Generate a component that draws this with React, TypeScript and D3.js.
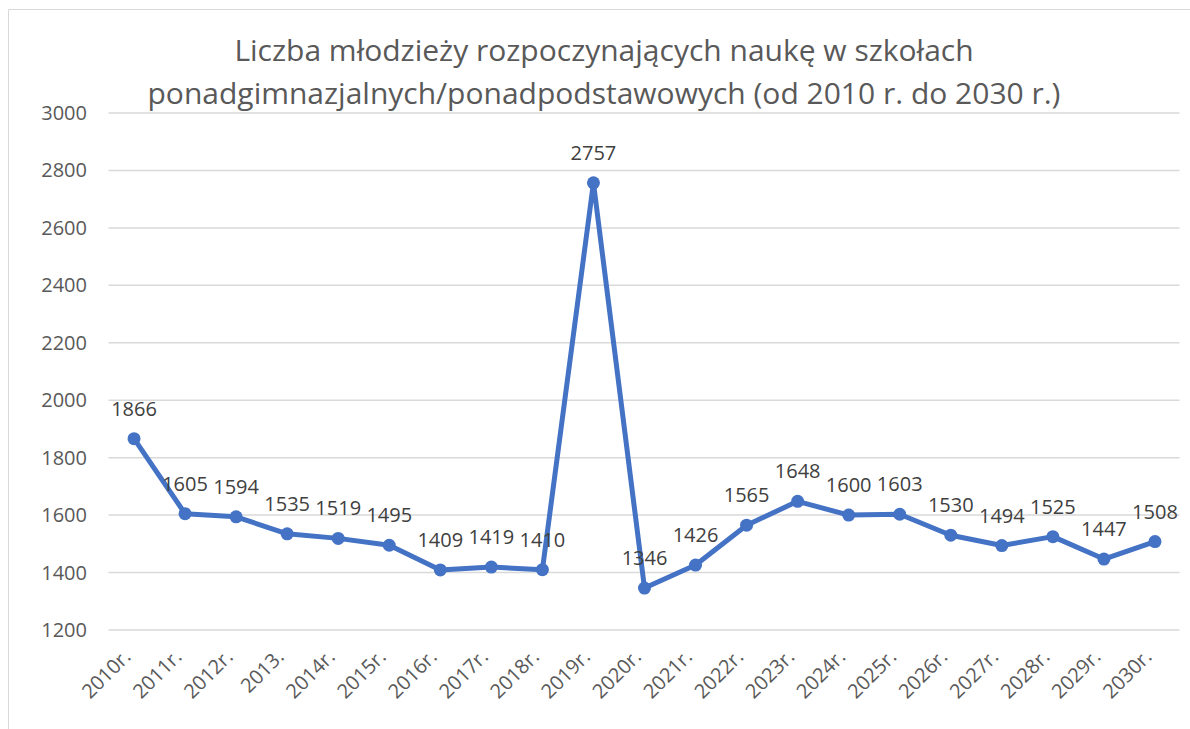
import React from "react";
import * as d3 from "d3";

const categories = ["2010r.", "2011r.", "2012r.", "2013.", "2014r.", "2015r.", "2016r.", "2017r.", "2018r.", "2019r.", "2020r.", "2021r.", "2022r.", "2023r.", "2024r.", "2025r.", "2026r.", "2027r.", "2028r.", "2029r.", "2030r."];
const values = [1866, 1605, 1594, 1535, 1519, 1495, 1409, 1419, 1410, 2757, 1346, 1426, 1565, 1648, 1600, 1603, 1530, 1494, 1525, 1447, 1508];
const yTicks = [1200, 1400, 1600, 1800, 2000, 2200, 2400, 2600, 2800, 3000];
const titleLines = ["Liczba młodzieży rozpoczynających naukę w szkołach", "ponadgimnazjalnych/ponadpodstawowych (od 2010 r. do 2030 r.)"];

const W = 1190, H = 729;
const plotLeft = 108.5, plotRight = 1180.5, plotTop = 113, plotBottom = 630;
const FONT = "'Open Sans', 'Liberation Sans', sans-serif";

export default function App() {
  const x = d3.scaleBand<string>().domain(categories).range([plotLeft, plotRight]);
  const y = d3.scaleLinear().domain([1200, 3000]).range([plotBottom, plotTop]);
  const cx = (c: string) => (x(c) as number) + x.bandwidth() / 2;
  const line = d3.line<number>().x((_, i) => cx(categories[i])).y((v) => y(v));

  return (
    <svg width={W} height={H} style={{ position: "absolute", left: 0, top: 0, background: "#fff" }} fontFamily={FONT}>
      <rect x={0} y={0} width={W} height={H} fill="#fff" />
      <line x1={8.5} y1={9.5} x2={W} y2={9.5} stroke="#d9d9d9" strokeWidth={1} />
      <line x1={8.5} y1={9.5} x2={8.5} y2={H} stroke="#d9d9d9" strokeWidth={1} />
      {titleLines.map((t, i) => (
        <text key={i} x={604} y={61 + i * 43} textAnchor="middle" fontSize={30} fill="#595959">{t}</text>
      ))}
      {yTicks.map((t) => (
        <g key={t}>
          <line x1={plotLeft} x2={plotRight - 1} y1={y(t)} y2={y(t)} stroke="#d9d9d9" strokeWidth={1.5} />
          <text x={87} y={y(t) + 7} textAnchor="end" fontSize={20} fill="#595959">{t}</text>
        </g>
      ))}
      {categories.map((c) => (
        <text key={c} transform={`translate(${cx(c) - 2},${658}) rotate(-45)`} textAnchor="end" fontSize={20} fill="#595959">{c}</text>
      ))}
      <path d={line(values) || ""} fill="none" stroke="#4472C4" strokeWidth={5} strokeLinejoin="round" />
      {values.map((v, i) => (
        <circle key={i} cx={cx(categories[i])} cy={y(v)} r={6.5} fill="#4472C4" />
      ))}
      {values.map((v, i) => (
        <text key={i} x={cx(categories[i])} y={y(v) - 23} textAnchor="middle" fontSize={20} fill="#404040">{v}</text>
      ))}
    </svg>
  );
}
